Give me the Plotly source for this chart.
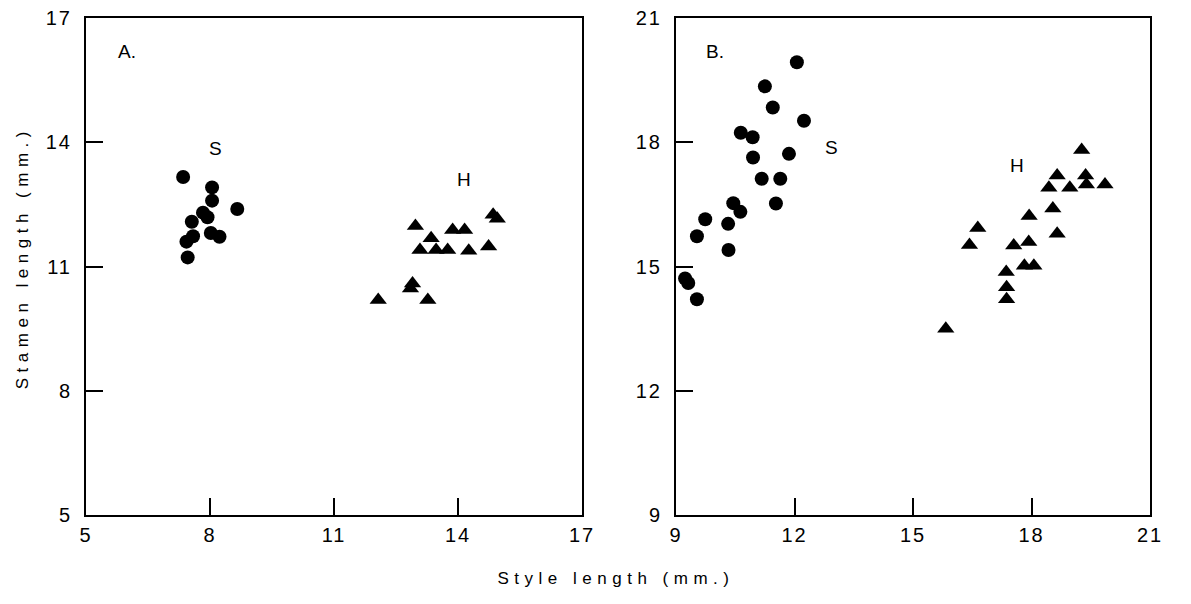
import plotly.graph_objects as go

# Panel A data (style length, stamen length; mm)
a_s_x = [7.35, 8.05, 8.05, 8.66, 7.83, 7.94, 7.56, 7.59, 7.43, 7.46, 8.02, 8.23]
a_s_y = [13.16, 12.91, 12.59, 12.39, 12.30, 12.19, 12.08, 11.73, 11.60, 11.22, 11.81, 11.72]
a_h_x = [12.97, 13.35, 13.08, 13.47, 13.75, 13.87, 14.16, 14.26, 14.74, 14.85, 14.95, 12.90, 12.85, 13.27, 12.07]
a_h_y = [11.98, 11.68, 11.40, 11.40, 11.40, 11.88, 11.88, 11.38, 11.48, 12.25, 12.15, 10.59, 10.47, 10.19, 10.19]

# Panel B data
b_s_x = [12.06, 11.25, 11.45, 12.24, 10.64, 10.94, 10.95, 11.86, 11.17, 11.64, 11.53, 10.45,
         10.63, 9.74, 10.32, 9.53, 10.33, 9.23, 9.31, 9.53]
b_s_y = [19.93, 19.35, 18.84, 18.52, 18.23, 18.12, 17.63, 17.72, 17.12, 17.12, 16.52, 16.53,
         16.32, 16.14, 16.03, 15.73, 15.40, 14.71, 14.60, 14.21]
b_h_x = [19.27, 18.65, 19.37, 19.39, 19.86, 18.97, 18.44, 18.54, 18.65, 17.94, 17.93, 17.55,
         17.82, 18.06, 17.36, 17.37, 17.37, 16.64, 16.43, 15.83]
b_h_y = [17.81, 17.20, 17.20, 16.98, 16.98, 16.90, 16.90, 16.40, 15.79, 16.22, 15.59, 15.51,
         15.02, 15.02, 14.87, 14.50, 14.21, 15.93, 15.52, 13.50]

a_ticks = [5, 8, 11, 14, 17]
b_ticks = [9, 12, 15, 18, 21]

FONT = "Liberation Sans, Arial, sans-serif"

fig = go.Figure()
circ = dict(symbol="circle", size=14, color="black", line=dict(width=0))
tri = dict(symbol="triangle-up", size=15, color="black", line=dict(width=0))

fig.add_trace(go.Scatter(x=a_s_x, y=a_s_y, mode="markers", marker=circ, xaxis="x", yaxis="y", showlegend=False))
fig.add_trace(go.Scatter(x=a_h_x, y=a_h_y, mode="markers", marker=tri, xaxis="x", yaxis="y", showlegend=False))
fig.add_trace(go.Scatter(x=b_s_x, y=b_s_y, mode="markers", marker=circ, xaxis="x2", yaxis="y2", showlegend=False))
fig.add_trace(go.Scatter(x=b_h_x, y=b_h_y, mode="markers", marker=tri, xaxis="x2", yaxis="y2", showlegend=False))

W, H = 1191, 604
ydom = [1 - 515 / H, 1 - 18 / H]

def ax(rng, ticks, dom, anchor):
    return dict(range=rng, tickvals=ticks, ticktext=[str(t) for t in ticks], domain=dom, anchor=anchor,
                showgrid=False, zeroline=False, showline=True, linecolor="black", linewidth=2,
                mirror=True, ticks="inside", ticklen=17, tickwidth=2, tickcolor="black",
                automargin=False,
                tickfont=dict(family=FONT, size=20, color="black"))

fig.update_layout(
    width=W, height=H, autosize=False,
    paper_bgcolor="white", plot_bgcolor="white",
    margin=dict(l=0, r=0, t=0, b=0, pad=0),
    xaxis=ax([5, 17], a_ticks, [86 / W, 582 / W], "y"),
    yaxis=ax([5, 17], a_ticks, ydom, "x"),
    xaxis2=ax([9, 21], b_ticks, [676 / W, 1150 / W], "y2"),
    yaxis2=ax([9, 21], b_ticks, ydom, "x2"),
    hovermode=False,
)
fig.update_xaxes(ticklabelstandoff=1)
fig.update_yaxes(ticklabelstandoff=8)

ann_font = dict(family=FONT, size=19, color="black")
labels = [
    ("A.", 6.0, 16.2, "x", "y"), ("S", 8.13, 13.86, "x", "y"), ("H", 14.14, 13.1, "x", "y"),
    ("B.", 9.99, 20.18, "x2", "y2"), ("S", 12.93, 17.87, "x2", "y2"), ("H", 17.64, 17.45, "x2", "y2"),
]
for t, xx, yy, xr, yr in labels:
    fig.add_annotation(text=t, x=xx, y=yy, xref=xr, yref=yr, showarrow=False, font=ann_font,
                       xanchor="center", yanchor="middle")

title_font = dict(family=FONT, size=17, color="black")
fig.add_annotation(text="Style length (mm.)", x=616 / W, y=1 - 578 / H, xref="paper", yref="paper",
                   showarrow=False, font=title_font, xanchor="center", yanchor="middle")
fig.add_annotation(text="Stamen length (mm.)", x=22 / W, y=1 - 258 / H, xref="paper", yref="paper",
                   showarrow=False, font=title_font, textangle=-90, xanchor="center", yanchor="middle")

post = """
document.body.style.margin = '0';
document.body.style.padding = '0';
document.querySelectorAll('.annotation-text').forEach(function(el){
  var t = el.textContent;
  if (t.indexOf('length') >= 0) { el.style.letterSpacing = '5.5px'; }
});
document.querySelectorAll('.xtick text, .ytick text, .x2tick text, .y2tick text').forEach(function(el){
  el.style.letterSpacing = '2px';
});
"""
fig.write_html("out.html", post_script=post, config={"displayModeBar": False, "staticPlot": True})
